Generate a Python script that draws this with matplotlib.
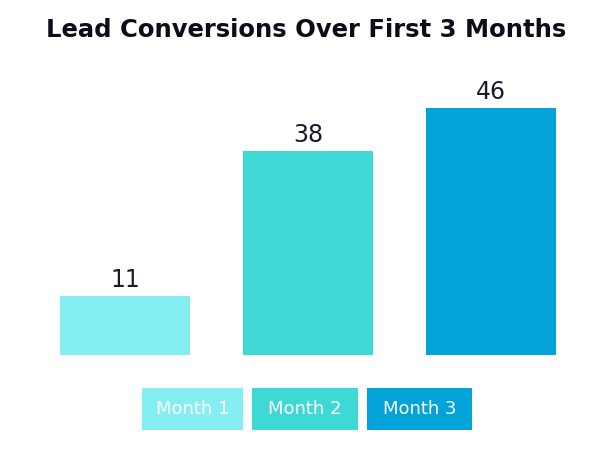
import matplotlib.pyplot as plt
from matplotlib.patches import Rectangle

months = ["Month 1", "Month 2", "Month 3"]
conversions = [11, 38, 46]
colors = ["#84EEF3", "#3ED9D4", "#01A3D8"]

W, H = 601, 461
fig = plt.figure(figsize=(W / 100, H / 100), dpi=100)
fig.patch.set_facecolor("white")

# axes placed so bars land where they sit in the reference
ax = fig.add_axes([60 / W, 1 - 355 / H, (556 - 60) / W, (355 - 108) / H])
x = range(len(months))
bars = ax.bar(x, conversions, width=0.71, color=colors)
ax.set_xlim(-0.355, len(months) - 1 + 0.355)
ax.set_ylim(0, max(conversions))
ax.axis("off")

for b, v in zip(bars, conversions):
    ax.annotate(str(v), (b.get_x() + b.get_width() / 2, v), xytext=(0, 3),
                textcoords="offset points", ha="center", va="bottom",
                fontsize=17, color="#1a1a2e", annotation_clip=False)

fig.text(0.51, 1 - 30 / H, "Lead Conversions Over First 3 Months", ha="center", va="center",
         fontsize=17.5, fontweight="bold", color="#0d0d1a")

# legend as coloured boxes with white labels
boxes = [(142, 243), (252, 358), (367, 472)]
for (x0, x1), name, c in zip(boxes, months, colors):
    fig.patches.append(Rectangle((x0 / W, 1 - 430 / H), (x1 - x0) / W, 42 / H,
                                 transform=fig.transFigure, facecolor=c, edgecolor="none"))
    fig.text((x0 + x1) / 2 / W, 1 - 409 / H, name, ha="center", va="center",
             fontsize=13, color="white")

fig.savefig("out.png", dpi=100)
